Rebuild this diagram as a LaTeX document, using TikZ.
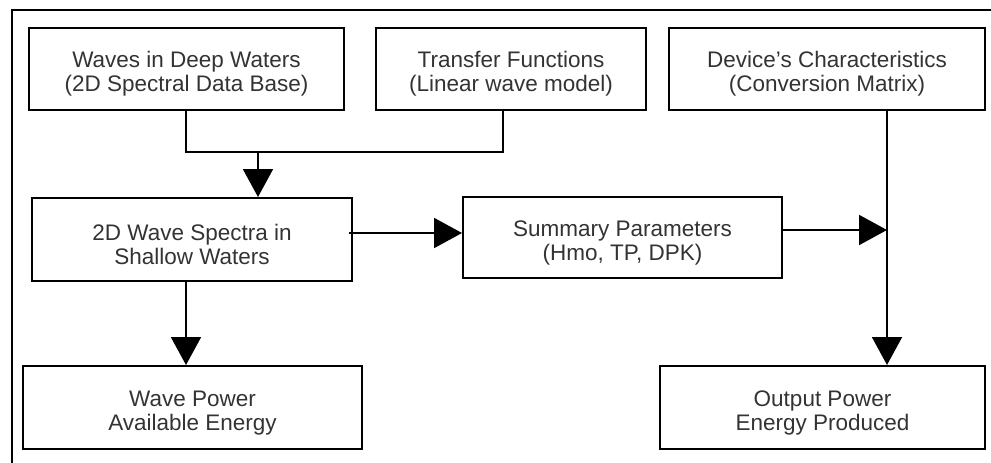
\documentclass[tikz,border=0pt]{standalone}
\usepackage{fontspec}
\setmainfont{Liberation Sans}
\usetikzlibrary{arrows.meta,calc}
\newcommand{\tpad}{\rule{0pt}{26pt}}
\begin{document}
\begin{tikzpicture}[x=1pt,y=-1pt,
  box/.style={draw=black,line width=2pt,rectangle,inner sep=0pt,
    minimum height=82pt,align=center,text=black!80,
    font=\fontsize{22.5}{24}\selectfont},
  conn/.style={draw=black,line width=2pt},
  arr/.style={conn,-{Triangle[width=30pt,length=28pt]}}]
\useasboundingbox (0,0) rectangle (991,463);
\draw[line width=1.8pt] (12,463) -- (12,10) -- (991,10);
\node[box,minimum width=315pt] (A) at (186.5,69) {\tpad Waves in Deep Waters\\(2D Spectral Data Base)};
\node[box,minimum width=270pt] (B) at (511,69) {\tpad Transfer Functions\\(Linear wave model)};
\node[box,minimum width=316pt] (C) at (827,69) {\tpad Device’s Characteristics\\(Conversion Matrix)};
\node[box,minimum width=320pt,minimum height=83pt] (D) at (192,239.5) {\tpad 2D Wave Spectra in\\Shallow Waters};
\node[box,minimum width=319pt,minimum height=81pt] (E) at (622.5,237.5) {\tpad Summary Parameters\\(Hmo, TP, DPK)};
\node[box,minimum width=339pt,minimum height=83pt] (F) at (192.5,407.5) {\tpad Wave Power\\Available Energy};
\node[box,minimum width=325pt,minimum height=83pt] (G) at (822.5,407.5) {\tpad Output Power\\Energy Produced};
% junction
\coordinate (ja) at (186,152);
\coordinate (jm) at (258,152);
\coordinate (jb) at (503,152);
\draw[conn] (A.south -| ja) -- (ja) -- (jb) -- (B.south -| jb);
\draw[arr] (jm) -- (D.north -| jm);
% D to E
\coordinate (de) at (349,233);
\draw[arr] (de) -- (E.west |- de);
% E to vertical
\coordinate (vx) at (887,230);
\draw[arr] (E.east |- vx) -- (vx);
% C to G
\draw[arr] (C.south -| vx) -- (G.north -| vx);
% D to F
\coordinate (df) at (186,281);
\draw[arr] (D.south -| df) -- (F.north -| df);
\end{tikzpicture}
\end{document}
